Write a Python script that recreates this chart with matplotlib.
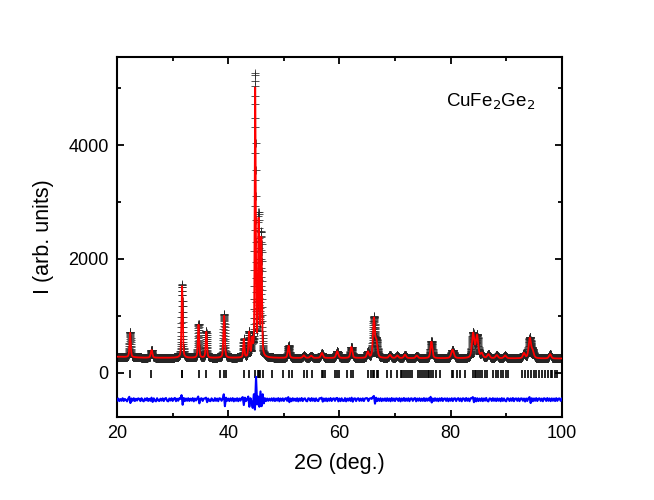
import numpy as np
import matplotlib
matplotlib.use("Agg")
import matplotlib.pyplot as plt
from matplotlib.ticker import MultipleLocator

plt.rcParams['font.family'] = ['Liberation Sans', 'DejaVu Sans']

# ---------------- data ----------------
# background knots (2theta, intensity)
bg_pos = [20, 25, 40, 60, 80, 100]
bg_int = [280, 262, 258, 256, 252, 248]

# reflections: position (deg), observed amplitude, calculated amplitude, FWHM (deg)
peak_pos = [22.35, 26.2, 31.7, 34.65, 36.05, 39.25, 42.8, 43.75, 44.3, 44.85,
            45.45, 45.95, 50.85, 53.6, 54.9, 56.85, 59.6, 62.15, 65.1, 66.2,
            66.65, 69.1, 70.4, 71.8, 73.9, 76.55, 80.35, 84.05, 84.75, 85.6,
            86.8, 88.3, 89.8, 93.2, 94.25, 94.75, 97.9]
peak_obs = [450, 140, 1300, 600, 470, 770, 330, 440, 280, 4950,
            2450, 2150, 220, 45, 40, 90, 120, 200, 110, 700,
            280, 55, 45, 60, 45, 300, 150, 440, 400, 80,
            70, 55, 50, 90, 360, 120, 75]
peak_calc = [430, 135, 1260, 580, 455, 740, 320, 430, 270, 4700,
             2350, 2050, 215, 45, 40, 88, 118, 195, 108, 680,
             275, 55, 45, 60, 45, 290, 148, 430, 392, 80,
             70, 55, 50, 88, 350, 118, 75]
peak_fwhm = [0.26, 0.34, 0.26, 0.26, 0.26, 0.29, 0.24, 0.28, 0.24, 0.21,
             0.25, 0.25, 0.34, 0.45, 0.45, 0.45, 0.45, 0.40, 0.40, 0.40,
             0.45, 0.45, 0.45, 0.45, 0.45, 0.40, 0.55, 0.50, 0.50, 0.50,
             0.50, 0.50, 0.50, 0.45, 0.50, 0.50, 0.45]

# Bragg reflection positions (tick marks)
bragg_pos = [22.3, 26.15, 31.65, 31.75, 34.65, 36.05, 38.5, 39.2, 39.6, 42.8,
             43.75, 44.8, 45.3, 45.5, 45.8, 46.2, 47.8, 49.9, 50.85, 51.4,
             53.6, 54.2, 55.0, 56.8, 57.1, 57.4, 59.2, 59.55, 59.9, 61.3,
             62.1, 62.4, 65.1, 65.7, 66.0, 66.3, 66.7, 67.0, 68.6, 69.3,
             70.3, 71.0, 71.3, 71.7, 72.0, 72.4, 72.7, 73.1, 74.2, 74.5,
             74.9, 75.3, 75.6, 75.9, 76.2, 76.5, 76.9, 77.4, 78.1, 80.2,
             80.5, 81.1, 81.6, 82.6, 84.0, 84.3, 84.6, 84.9, 85.2, 85.6,
             86.1, 86.5, 87.7, 88.2, 88.6, 89.0, 89.5, 90.0, 90.4, 92.8,
             93.3, 93.9, 94.4, 95.0, 95.4, 95.9, 96.4, 96.9, 97.5, 98.0,
             98.3, 98.7, 99.1]

# difference curve, sampled every 0.2 deg from 20 to 100
diff_start, diff_step = 20.0, 0.2
diff_vals = [
    -490, -455, -500, -465, -495, -450, -498, -462, -480, -505, -458, -425, -535, -455, -495, -450, -500, -460, -490, -452,
    -462, -500, -450, -492, -505, -455, -488, -448, -498, -460, -495, -440, -515, -452, -492, -505, -450, -488, -500, -458,
    -492, -452, -500, -458, -446, -495, -505, -455, -490, -450, -498, -460, -445, -502, -458, -494, -450, -462, -395, -565,
    -445, -500, -455, -495, -450, -498, -458, -492, -448, -505, -455, -490, -455, -420, -540, -460, -450, -498, -458, -452,
    -440, -520, -455, -494, -502, -452, -490, -498, -448, -496, -456, -502, -450, -458, -495, -455, -380, -590, -440, -495,
    -456, -500, -452, -494, -448, -505, -458, -496, -450, -502, -455, -492, -448, -430, -570, -440, -500, -465, -420, -600,
    -450, -520, -620, -380, -650, -75, -560, -420, -600, -330, -590, -380, -540, -450, -500, -455, -495, -458, -492, -452,
    -495, -450, -500, -456, -492, -448, -504, -455, -494, -452, -498, -458, -448, -496, -430, -520, -455, -502, -450, -492,
    -458, -498, -450, -505, -455, -494, -446, -500, -460, -452, -496, -504, -450, -458, -498, -448, -494, -455, -502, -452,
    -492, -500, -450, -456, -440, -510, -455, -497, -452, -502, -456, -494, -447, -499, -458, -452, -496, -450, -445, -505,
    -455, -501, -451, -494, -498, -448, -505, -456, -492, -450, -497, -440, -510, -457, -452, -500, -458, -450, -497, -456,
    -494, -452, -500, -456, -448, -450, -500, -458, -450, -462, -430, -410, -545, -440, -500, -455, -497, -451, -501, -457,
    -493, -453, -499, -450, -496, -456, -503, -447, -494, -455, -500, -452, -458, -497, -449, -505, -455, -494, -446, -498,
    -455, -495, -450, -502, -456, -452, -497, -458, -447, -504, -455, -493, -451, -498, -457, -496, -448, -500, -454, -494,
    -452, -493, -425, -525, -455, -498, -450, -495, -456, -502, -453, -494, -447, -499, -458, -454, -497, -451, -503, -456,
    -494, -450, -500, -455, -452, -500, -458, -449, -497, -454, -504, -451, -457, -498, -446, -495, -455, -502, -450, -450,
    -430, -520, -445, -505, -450, -500, -456, -497, -450, -501, -454, -493, -445, -496, -506, -453, -458, -498, -449, -495,
    -455, -500, -452, -494, -457, -503, -448, -497, -454, -493, -505, -450, -456, -499, -453, -495, -446, -502, -458, -454,
    -496, -451, -501, -456, -453, -494, -455, -508, -455, -498, -450, -430, -535, -450, -503, -454, -495, -448, -499, -457,
    -452, -497, -456, -503, -450, -458, -498, -447, -495, -454, -501, -453, -494, -455, -500, -449, -496, -457, -454, -497,
    -458]

# ---------------- build profiles ----------------
tt = np.arange(20.0, 100.0001, 0.015)


def profile(x, amps):
    y = np.interp(x, bg_pos, bg_int).astype(float)
    eta = 0.45
    for p, a, w in zip(peak_pos, amps, peak_fwhm):
        d = (x - p) / (w / 2.0)
        lor = 1.0 / (1.0 + d ** 2)
        gau = np.exp(-np.log(2) * d ** 2)
        y += a * (eta * lor + (1 - eta) * gau)
    return y


y_obs = profile(tt, peak_obs)
y_calc = profile(tt, peak_calc)
x_diff = diff_start + diff_step * np.arange(len(diff_vals))

# ---------------- plot ----------------
fig = plt.figure(figsize=(6.54, 5.0), dpi=100)
ax = fig.add_axes([0.179, 0.166, 0.680, 0.720])

ax.plot(tt, y_obs, linestyle='none', marker='+', markersize=5.5,
        markeredgewidth=0.55, color='0.15', zorder=2)
ax.plot(tt, y_calc, color='red', lw=1.3, zorder=3)
ax.vlines(bragg_pos, -95, 55, color='black', lw=1.2, zorder=2)
ax.plot(x_diff, diff_vals, color='blue', lw=1.5, zorder=3)

ax.set_xlim(20, 100)
ax.set_ylim(-780, 5550)
ax.xaxis.set_major_locator(MultipleLocator(20))
ax.xaxis.set_minor_locator(MultipleLocator(10))
ax.yaxis.set_major_locator(MultipleLocator(2000))
ax.yaxis.set_minor_locator(MultipleLocator(1000))
ax.tick_params(which='both', direction='in', top=True, right=True,
               labelsize=13, width=1.3)
ax.tick_params(which='major', length=5, pad=6)
ax.tick_params(which='minor', length=3)
for s in ax.spines.values():
    s.set_linewidth(1.5)

ax.set_xlabel('2Θ (deg.)', fontsize=15.5, labelpad=8)
ax.set_ylabel('I (arb. units)', fontsize=15.5, labelpad=10)

ax.text(0.74, 0.875, 'CuFe$_2$Ge$_2$', transform=ax.transAxes,
        fontsize=13.5, ha='left', va='center')

fig.savefig('out.png', dpi=100)
